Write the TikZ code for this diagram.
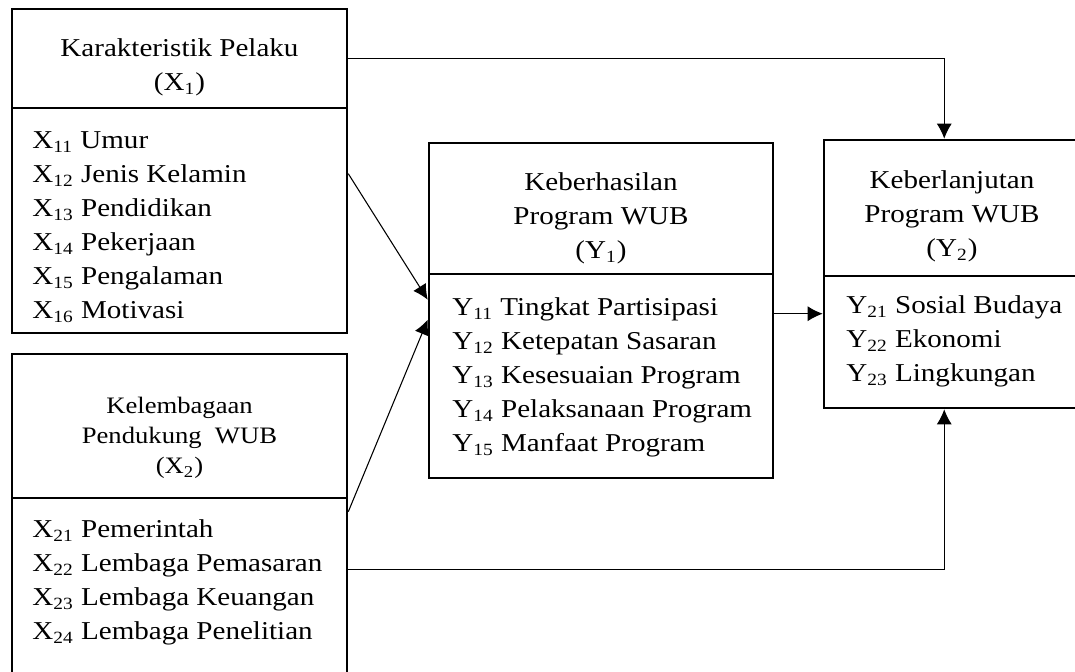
\documentclass[tikz,border=0pt]{standalone}
\usepackage{fontspec}
\setmainfont{Liberation Serif}[FakeStretch=1.13]
\usepackage{tikz}
\usetikzlibrary{arrows.meta,fit,calc}

\tikzset{
  box/.style={draw, line width=1.2pt, inner sep=0pt},
  title/.style={align=center, inner sep=0pt, font=\fontsize{12}{15.9}\selectfont},
  items/.style={align=left, inner sep=0pt, anchor=north west, font=\fontsize{12}{15.9}\selectfont},
  link/.style={line width=0.5pt, -{Latex[length=7pt,width=7pt]}},
}

\begin{document}
\begin{tikzpicture}[x=0.4667pt, y=0.4667pt]
			\useasboundingbox (0,0) rectangle (1075,-672);
			\clip (0,0) rectangle (1075,-672);
			% karakteristik pelaku
			\node[box, fit={(12,-9) (347,-108)}] (x1h) {};
			\node[title] (x1ht) at ($(x1h.center)+(0,-9)$) {Karakteristik Pelaku\\(X\textsubscript{1})};
			\node[box, fit={(12,-108) (347,-333)}] (x1b) {};
			\node[items] (x1t) at (32,-131) {X\textsubscript{11} Umur\\
				X\textsubscript{12} Jenis Kelamin\\
				X\textsubscript{13} Pendidikan\\
				X\textsubscript{14} Pekerjaan\\
				X\textsubscript{15} Pengalaman\\
				X\textsubscript{16} Motivasi};
			% kelembagaan pendukung
			\node[box, fit={(12,-354) (347,-498)}] (x2h) {};
			\node[title, font=\fontsize{11}{14}\selectfont] (x2ht) at ($(x2h.center)+(0,-12)$) {Kelembagaan\\Pendukung~ WUB\\(X\textsubscript{2})};
			\node[box, fit={(12,-498) (347,-700)}] (x2b) {};
			\node[items] (x2t) at (32,-519) {X\textsubscript{21} Pemerintah\\
				X\textsubscript{22} Lembaga Pemasaran\\
				X\textsubscript{23} Lembaga Keuangan\\
				X\textsubscript{24} Lembaga Penelitian};
			% keberhasilan program
			\node[box, fit={(429,-143) (773,-274)}] (y1h) {};
			\node[title] (y1ht) at ($(y1h.center)+(0,-10)$) {Keberhasilan\\Program WUB\\(Y\textsubscript{1})};
			\node[box, fit={(429,-274) (773,-478)}] (y1b) {};
			\node[items] (y1t) at (452,-297) {Y\textsubscript{11} Tingkat Partisipasi\\
				Y\textsubscript{12} Ketepatan Sasaran\\
				Y\textsubscript{13} Kesesuaian Program\\
				Y\textsubscript{14} Pelaksanaan Program\\
				Y\textsubscript{15} Manfaat Program};
			% keberlanjutan program
			\node[box, fit={(824,-140) (1080,-276)}] (y2h) {};
			\node[title] (y2ht) at ($(y2h.center)+(0,-8)$) {Keberlanjutan\\Program WUB\\(Y\textsubscript{2})};
			\node[box, fit={(824,-276) (1080,-408)}] (y2b) {};
			\node[items] (y2t) at (846,-295) {Y\textsubscript{21} Sosial Budaya\\
				Y\textsubscript{22} Ekonomi\\
				Y\textsubscript{23} Lingkungan};
			% arrows
			\coordinate (y1out) at ($(y1b.north east)+(0,-41)$);
			\draw[link] (x1h.east) -| ($(y2h.north west)!.47!(y2h.north east)$);
			\draw[link] ($(x1b.north east)+(0,-67)$) -- ($(y1b.north west)+(0,-27)$);
			\draw[link] ($(x2b.north east)+(0,-15)$) -- ($(y1b.north west)+(0,-47)$);
			\draw[link] (y1out) -- (y1out -| y2b.west);
			\draw[link] ($(x2b.north east)+(0,-73)$) -| ($(y2b.south west)!.47!(y2b.south east)$);
		\end{tikzpicture}
\end{document}
